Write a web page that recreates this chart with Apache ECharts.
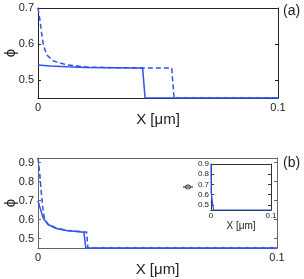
<!DOCTYPE html>
<html><head><meta charset="utf-8">
<script src="https://cdn.jsdelivr.net/npm/echarts@6/dist/echarts.min.js"></script>
<style>html,body{margin:0;padding:0;background:#fff}#c{width:304px;height:279px}</style>
</head><body><div id="c"></div>
<script>
// Panel (a)
const aSolidX = [0, 0.005, 0.012, 0.02, 0.03, 0.0436, 0.0446, 0.1];
const aSolidY = [0.542, 0.539, 0.537, 0.535, 0.534, 0.533, 0.45, 0.45];
const aDashX = [0, 0.0008, 0.0015, 0.0022, 0.0036, 0.0064, 0.012, 0.0203, 0.0328, 0.0557, 0.0567, 0.1];
const aDashY = [0.70, 0.667, 0.63, 0.598, 0.570, 0.553, 0.542, 0.536, 0.534, 0.533, 0.45, 0.45];
// Panel (b)
const bSolidX = [0, 0.0021, 0.0042, 0.0077, 0.0119, 0.0192, 0.020, 0.1];
const bSolidY = [0.70, 0.609, 0.574, 0.553, 0.542, 0.533, 0.45, 0.45];
const bDashX = [0, 0.0007, 0.0014, 0.0021, 0.0028, 0.0042, 0.0077, 0.0119, 0.0192, 0.0203, 0.0209, 0.1];
const bDashY = [0.925, 0.845, 0.74, 0.653, 0.60, 0.576, 0.555, 0.543, 0.535, 0.535, 0.45, 0.45];
// Inset
const insetX = [0, 0.0003, 0.0042, 0.1];
const insetY = [0.9, 0.62, 0.45, 0.45];
// Tick labels
const aYTicks = [0.5, 0.6, 0.7];
const bYTicks = [0.5, 0.6, 0.7, 0.8, 0.9];
const insetYTicks = [0.5, 0.6, 0.7, 0.8, 0.9];
const xTicks = [0, 0.1];
const xName = 'X [μm]';
const yName = 'ϕ';

const zip = (xs, ys) => xs.map((x, i) => [x, ys[i]]);
const FF = "'Liberation Sans', Arial, sans-serif";
const BLUE = '#2e50f5';

function axes(g, ymin, ymax, yt, col, lf, nf, yGap, xGap, lblM) {
  const line = {show: true, onZero: false, lineStyle: {color: col, width: 1}};
  const xs = [
    {gridIndex: g, type: 'value', min: 0, max: 0.1, position: 'bottom',
     axisLine: line, splitLine: {show: false},
     axisTick: {show: false},
     axisLabel: {customValues: xTicks, color: '#222', fontSize: lf, fontFamily: FF, margin: lblM,
       formatter: v => v === 0 ? '0' : String(v)},
     name: xName, nameLocation: 'middle', nameGap: xGap, nameMoveOverlap: false,
     nameTextStyle: {fontSize: nf, fontFamily: FF, color: '#222'}},
    {gridIndex: g, type: 'value', min: 0, max: 0.1, position: 'top',
     axisLine: line, splitLine: {show: false}, axisTick: {show: false}, axisLabel: {show: false}}
  ];
  const ys = [
    {gridIndex: g, type: 'value', min: ymin, max: ymax, position: 'left',
     axisLine: line, splitLine: {show: false},
     axisTick: {show: true, inside: true, length: 3, customValues: yt, lineStyle: {color: col}},
     axisLabel: {customValues: yt, color: '#222', fontSize: lf, fontFamily: FF, margin: lblM,
       formatter: v => v.toFixed(1)},
     name: yName, nameLocation: 'middle', nameGap: yGap, nameMoveOverlap: false,
     nameTextStyle: {fontSize: nf, fontFamily: FF, color: '#222'}},
    {gridIndex: g, type: 'value', min: ymin, max: ymax, position: 'right',
     axisLine: line, splitLine: {show: false},
     axisTick: {show: true, inside: true, length: 3, customValues: yt, lineStyle: {color: col}},
     axisLabel: {show: false}}
  ];
  return {xs, ys};
}

const A = axes(0, 0.45, 0.70, aYTicks, '#222', 11, 15, 20, 14, 4);
const B = axes(1, 0.45, 0.925, bYTicks, '#666', 11, 15, 20, 14, 4);
const C = axes(2, 0.45, 0.90, insetYTicks, '#333', 8, 10, 18, 11, 2);

const ser = (xi, yi, data, dashed) => ({
  type: 'line', xAxisIndex: xi, yAxisIndex: yi, data, showSymbol: false, symbol: 'none',
  lineStyle: {color: BLUE, width: 1.5, type: dashed ? [5, 3] : 'solid'}, animation: false, z: 5
});

const chart = echarts.init(document.getElementById('c'), null, {renderer: 'canvas'});
chart.setOption({
  animation: false,
  backgroundColor: '#fff',
  grid: [
    {left: 38, top: 8, width: 240, height: 90, outerBoundsMode: 'none', containLabel: false},
    {left: 38, top: 158, width: 239, height: 90, outerBoundsMode: 'none', containLabel: false},
    {left: 211, top: 164, width: 60, height: 46, outerBoundsMode: 'none', containLabel: false,
     show: true, backgroundColor: '#fff', borderWidth: 0, z: 10}
  ],
  xAxis: [...A.xs, ...B.xs, ...C.xs.map(a => Object.assign(a, {z: 11}))],
  yAxis: [...A.ys, ...B.ys, ...C.ys.map(a => Object.assign(a, {z: 11}))],
  series: [
    ser(0, 0, zip(aSolidX, aSolidY), false),
    ser(0, 0, zip(aDashX, aDashY), true),
    ser(2, 2, zip(bSolidX, bSolidY), false),
    ser(2, 2, zip(bDashX, bDashY), true),
    Object.assign(ser(4, 4, zip(insetX, insetY), false), {z: 12, lineStyle: {color: BLUE, width: 1.2}})
  ],
  graphic: [
    {type: 'text', left: 283, top: 4, style: {text: '(a)', fontSize: 14, fontFamily: FF, fill: '#222'}},
    {type: 'text', left: 283, top: 156, style: {text: '(b)', fontSize: 14, fontFamily: FF, fill: '#222'}}
  ]
});
</script></body></html>
